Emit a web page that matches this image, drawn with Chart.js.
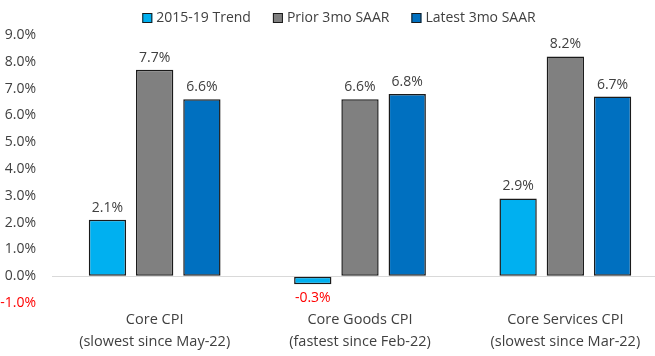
<!DOCTYPE html>
<html><head><meta charset="utf-8">
<script src="https://cdn.jsdelivr.net/npm/chart.js@4/dist/chart.umd.min.js"></script>
<style>html,body{margin:0;padding:0;background:#fff;overflow:hidden;width:655px;height:356px}canvas{display:block}</style>
</head><body>
<canvas id="c" width="668" height="360"></canvas>
<script>
const categories = [["Core CPI","(slowest since May-22)"],["Core Goods CPI","(fastest since Feb-22)"],["Core Services CPI","(slowest since Mar-22)"]];
const seriesNames = ["2015-19 Trend","Prior 3mo SAAR","Latest 3mo SAAR"];
const trend = [2.1, -0.3, 2.9];
const prior = [7.7, 6.6, 8.2];
const latest = [6.6, 6.8, 6.7];
const yTicks = [-1,0,1,2,3,4,5,6,7,8,9];
const colors = ["#00B0F0","#808080","#0070C0"];
const FONT = "'Open Sans', sans-serif";
const TXT = "#404040";

const labelPlugin = {
  id: 'valLabels',
  afterDatasetsDraw(chart) {
    const ctx = chart.ctx;
    ctx.save();
    ctx.font = "14px " + FONT;
    ctx.textAlign = 'center';
    chart.data.datasets.forEach((ds, i) => {
      const meta = chart.getDatasetMeta(i);
      meta.data.forEach((el, j) => {
        const v = ds.data[j];
        const t = v.toFixed(1) + '%';
        if (v >= 0) {
          ctx.fillStyle = TXT;
          ctx.textBaseline = 'bottom';
          ctx.fillText(t, el.x, el.y - 5);
        } else {
          ctx.fillStyle = '#FF0000';
          ctx.textBaseline = 'top';
          ctx.fillText(t, el.x, el.y + 7);
        }
      });
    });
    ctx.restore();
  }
};

const legendPlugin = {
  id: 'topLegend',
  afterDraw(chart) {
    const ctx = chart.ctx;
    ctx.save();
    ctx.font = "14px " + FONT;
    ctx.textBaseline = 'middle';
    ctx.textAlign = 'left';
    const ds = chart.data.datasets;
    const widths = ds.map(d => ctx.measureText(d.label).width);
    const gap = 22, box = 10, sp = 4;
    const total = widths.reduce((a, w) => a + box + sp + w, 0) + gap * (ds.length - 1);
    let x = chart.width / 2 + 5 - total / 2;
    const y = 18;
    ds.forEach((d, i) => {
      ctx.fillStyle = d.backgroundColor;
      ctx.fillRect(x, y - box / 2, box, box);
      ctx.strokeStyle = '#1a1a1a';
      ctx.lineWidth = 1;
      ctx.strokeRect(x + 0.5, y - box / 2 + 0.5, box - 1, box - 1);
      ctx.fillStyle = TXT;
      ctx.fillText(d.label, x + box + sp, y);
      x += box + sp + widths[i] + gap;
    });
    ctx.restore();
  }
};

const datasets = [trend, prior, latest].map((d, i) => ({
  label: seriesNames[i],
  data: d,
  backgroundColor: colors[i],
  borderColor: "#1a1a1a",
  borderWidth: 1.5,
  borderSkipped: false,
  categoryPercentage: 0.69,
  barPercentage: 0.79
}));

new Chart(document.getElementById('c'), {
  type: 'bar',
  data: { labels: categories, datasets },
  options: {
    responsive: false,
    animation: false,
    layout: { padding: { left: 0, right: 0, top: 35, bottom: 1 } },
    plugins: {
      legend: { display: false },
      tooltip: { enabled: false }
    },
    scales: {
      x: {
        grid: { display: false, drawTicks: false },
        border: { display: false },
        ticks: { font: { family: FONT, size: 14.5, lineHeight: 1.52 }, color: TXT, padding: 6 }
      },
      y: {
        min: -1, max: 9,
        afterBuildTicks(axis) { axis.ticks = yTicks.map(v => ({ value: v })); },
        afterFit(axis) { axis.width = 52; },
        border: { display: false },
        grid: {
          color: c => c.tick && c.tick.value === 0 ? '#d9d9d9' : 'rgba(0,0,0,0)',
          lineWidth: 1, drawTicks: false
        },
        ticks: {
          font: { family: FONT, size: 14 },
          color: c => c.tick.value < 0 ? '#FF0000' : TXT,
          padding: 16,
          callback: v => v.toFixed(1) + '%'
        }
      }
    }
  },
  plugins: [labelPlugin, legendPlugin]
});
</script>
</body></html>
